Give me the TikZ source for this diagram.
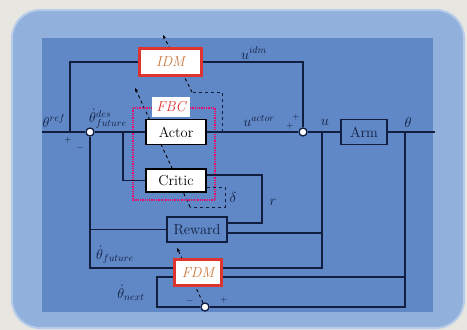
\documentclass[tikz,border=0pt]{standalone}
\usepackage{amsmath}
\usepackage{xcolor}
\usepackage{tikz}
\usetikzlibrary{arrows.meta, positioning, calc, backgrounds}

\definecolor{paper}{RGB}{232,230,224}
\definecolor{panel}{RGB}{145,176,220}
\definecolor{board}{RGB}{96,136,198}
\definecolor{wire}{RGB}{18,30,64}
\definecolor{alarm}{RGB}{222,52,48}
\definecolor{tag}{RGB}{205,120,60}

\begin{document}
\begin{tikzpicture}[x=1pt, y=1pt, color=wire, line width=1.2pt,
    every node/.style={font=\Large},
    blk/.style={draw=wire, line width=1.5pt, minimum width=60pt, minimum height=25pt, inner sep=1pt},
    wblk/.style={blk, draw=black, fill=white, text=black},
    redblk/.style={draw=alarm, fill=white, line width=3pt, text=tag, font=\Large\itshape, inner sep=1pt},
    sum/.style={circle, draw=wire, fill=white, line width=1.3pt, minimum size=8pt, inner sep=0pt},
    sig/.style={inner sep=1pt},
    sgn/.style={font=\small, inner sep=0pt},
    learn/.style={dashed, line width=0.9pt, -{Stealth[length=4pt]}}]
    \useasboundingbox (0,0) rectangle (467,-330);

    % blocks
    \node[redblk, minimum width=62pt, minimum height=27pt] (idm) at (170.5,-62) {IDM};
    \node[fill=white, minimum width=38pt, minimum height=20pt, inner sep=1pt, text=alarm, font=\Large\itshape] (fbc) at (171,-107) {FBC};
    \node[wblk] (actor) at (176,-132) {Actor};
    \node[wblk, minimum height=23pt] (critic) at (176,-180.5) {Critic};
    \node[blk] (reward) at (197,-229.5) {Reward};
    \node[redblk, minimum width=47pt, minimum height=26pt] (fdm) at (198,-272.5) {FDM};
    \node[blk, minimum width=46pt] (arm) at (364,-132) {Arm};
    \node[sum] (s1) at (90,-132) {};
    \node[sum] (s2) at (303,-132) {};
    \node[sum] (s3) at (205,-307) {};

    % branch points
    \coordinate (in) at (42,-132);
    \coordinate (out) at (435,-132);
    \coordinate (j1) at (70,-132);
    \coordinate (j2) at (123,-132);
    \coordinate (j3) at (322,-132);
    \coordinate (j4) at (405,-132);
    \coordinate (j5) at (222,-132);
    \coordinate (rx) at (262,-175);
    \coordinate (ru) at (322,-233);
    \coordinate (th) at (405,-277);
    \coordinate (nx) at (157,-277);
    \coordinate (dc) at (222,-92);
    \coordinate (dk) at (225,-187);
    \coordinate (dl) at (225,-207);
    \coordinate (d1) at (192,-92);
    \coordinate (d2) at (163,-35);
    \coordinate (d3) at (190,-207);
    \coordinate (d4) at (135,-88);
    \coordinate (d5) at (177,-248);

    % signals
    \draw (in) -- (s1) -- (actor) -- (s2) -- (arm) -- (out);
    \draw (j1) |- (idm);
    \draw (idm) -| (s2);
    \draw (j2) |- (critic);
    \draw ([yshift=5.5pt]critic.east) -- (rx) |- ([yshift=6.5pt]reward.east);
    \draw ([yshift=-3.5pt]reward.east) -- (ru);
    \draw (j3) |- ([yshift=4.5pt]fdm.east);
    \draw (s1) |- ([yshift=4.5pt]fdm.west);
    \draw (reward.west) -- (reward.west -| s1);
    \draw (j4) |- (s3);
    \draw ([yshift=-4.5pt]fdm.east) -- (th);
    \draw ([yshift=-4.5pt]fdm.west) -- (nx) |- (s3);
    \draw[dashed, line width=0.9pt] (j5) -- (dc) -- (d1);
    \draw[dashed, line width=0.9pt] ([yshift=-6.5pt]critic.east) -- (dk) -- (dl) -- (d3);

    % labels
    \node[sig] (lref) at (54,-121) {$\theta^{ref}$};
    \node[sig] (ldes) at (108,-119) {$\dot{\theta}^{des}_{future}$};
    \node[sig] (lidm) at (254,-53) {$u^{idm}$};
    \node[sig] (lact) at (259,-121) {$u^{actor}$};
    \node[sig] (lu) at (325,-122) {$u$};
    \node[sig] (lth) at (408,-122) {$\theta$};
    \node[sig] (lr) at (273,-202) {$r$};
    \node[sig] (ldel) at (233,-197) {$\delta$};
    \node[sig] (lfut) at (115,-255) {$\dot{\theta}_{future}$};
    \node[sig] (lnext) at (131,-293) {$\dot{\theta}_{next}$};
    \node[sgn] (p1) at (68,-140) {$+$};
    \node[sgn] (m1) at (80,-148) {$-$};
    \node[sgn] (p2) at (296,-117) {$+$};
    \node[sgn] (p3) at (290,-126) {$+$};
    \node[sgn] (m3) at (190,-301) {$-$};
    \node[sgn] (p4) at (224,-300) {$+$};

    \begin{scope}[on background layer]
      \fill[paper] (0,0) rectangle (467,-330);
      \fill[panel, draw=white!35!panel, line width=2pt, rounded corners=28pt] (12,-10) rectangle (464,-328);
      \fill[board] (42,-38) rectangle (433,-312);
      \draw[learn] (d1) -- (d2);
      \draw[learn] (d3) -- (d4);
      \draw[learn] (s3) -- (d5);
      \draw[densely dotted, magenta!70!red, line width=1.3pt] (133,-108) rectangle (215,-200);
    \end{scope}
\end{tikzpicture}
\end{document}
